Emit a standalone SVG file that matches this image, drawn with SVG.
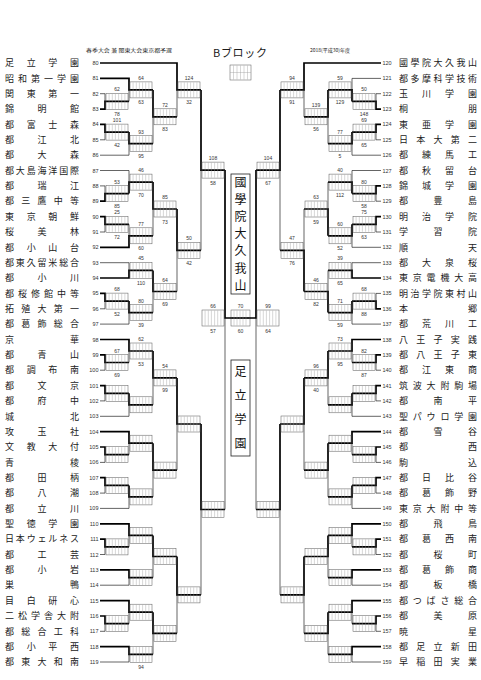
<svg xmlns="http://www.w3.org/2000/svg" width="481" height="680" viewBox="0 0 481 680">
<style>
.n{font-family:"Noto Sans CJK JP","Noto Sans CJK SC",sans-serif;font-size:9px;fill:#222}
.k{font-family:"Liberation Sans",sans-serif;font-size:5.5px;fill:#333}
.l{font-family:"Liberation Sans",sans-serif;font-size:5px;fill:#333;text-anchor:middle}
.h{font-family:"Noto Sans CJK JP","Noto Sans CJK SC",sans-serif;fill:#1a1a1a}
.t{stroke:#222;stroke-width:.7;fill:none}
.w{stroke:#000;stroke-width:1.7;fill:none}
.br{fill:none;stroke:#555;stroke-width:.5}
.bt{stroke:#999;stroke-width:.4}
.v{font-family:"Noto Sans CJK JP","Noto Sans CJK SC",sans-serif;font-size:12px;fill:#111;text-anchor:middle}
</style>
<defs>
<g id="bx"><rect class="br" x="1" y="-8" width="22" height="16"/><path class="bt" d="M4.1-7.5v15M7.3-7.5v15M10.4-7.5v15M13.6-7.5v15M16.7-7.5v15M19.9-7.5v15"/></g>
</defs>
<rect width="481" height="680" fill="#fff"/>
<g id="title">
<text class="h" x="86" y="52" font-size="5" textLength="86" lengthAdjust="spacingAndGlyphs">春季大会 兼 関東大会東京都予選</text>
<text class="h" x="213" y="57" font-size="11" textLength="54">Bブロック</text>
<text class="h" x="310" y="52" font-size="5" textLength="40" lengthAdjust="spacingAndGlyphs">2018(平成30)年度</text>
</g>
<g id="legend"><rect class="br" x="230" y="65" width="21" height="15"/><path class="bt" d="M233.5 65.5v14M237 65.5v14M240.5 65.5v14M244 65.5v14M247.5 65.5v14M230 72.5h21"/></g>
<g id="left-teams">
<g id="t80"><text class="n" x="5" y="66.2" textLength="74">足立学園</text><text class="k" x="98.5" y="65" text-anchor="end">80</text></g>
<g id="t81"><text class="n" x="5" y="81.6" textLength="74">昭和第一学園</text><text class="k" x="98.5" y="80.4" text-anchor="end">81</text></g>
<g id="t82"><text class="n" x="5" y="96.9" textLength="74">関東第一</text><text class="k" x="98.5" y="95.7" text-anchor="end">82</text></g>
<g id="t83"><text class="n" x="5" y="112.3" textLength="74">錦明館</text><text class="k" x="98.5" y="111.1" text-anchor="end">83</text></g>
<g id="t84"><text class="n" x="5" y="127.6" textLength="74">都富士森</text><text class="k" x="98.5" y="126.4" text-anchor="end">84</text></g>
<g id="t85"><text class="n" x="5" y="143" textLength="74">都江北</text><text class="k" x="98.5" y="141.8" text-anchor="end">85</text></g>
<g id="t86"><text class="n" x="5" y="158.4" textLength="74">都大森</text><text class="k" x="98.5" y="157.2" text-anchor="end">86</text></g>
<g id="t87"><text class="n" x="5" y="173.7" textLength="74">都大島海洋国際</text><text class="k" x="98.5" y="172.5" text-anchor="end">87</text></g>
<g id="t88"><text class="n" x="5" y="189.1" textLength="74">都瑞江</text><text class="k" x="98.5" y="187.9" text-anchor="end">88</text></g>
<g id="t89"><text class="n" x="5" y="204.4" textLength="74">都三鷹中等</text><text class="k" x="98.5" y="203.2" text-anchor="end">89</text></g>
<g id="t90"><text class="n" x="5" y="219.8" textLength="74">東京朝鮮</text><text class="k" x="98.5" y="218.6" text-anchor="end">90</text></g>
<g id="t91"><text class="n" x="5" y="235.2" textLength="74">桜美林</text><text class="k" x="98.5" y="234" text-anchor="end">91</text></g>
<g id="t92"><text class="n" x="5" y="250.5" textLength="74">都小山台</text><text class="k" x="98.5" y="249.3" text-anchor="end">92</text></g>
<g id="t93"><text class="n" x="5" y="265.9" textLength="74">都東久留米総合</text><text class="k" x="98.5" y="264.7" text-anchor="end">93</text></g>
<g id="t94"><text class="n" x="5" y="281.2" textLength="74">都小川</text><text class="k" x="98.5" y="280" text-anchor="end">94</text></g>
<g id="t95"><text class="n" x="5" y="296.6" textLength="74">都桜修館中等</text><text class="k" x="98.5" y="295.4" text-anchor="end">95</text></g>
<g id="t96"><text class="n" x="5" y="312" textLength="74">拓殖大第一</text><text class="k" x="98.5" y="310.8" text-anchor="end">96</text></g>
<g id="t97"><text class="n" x="5" y="327.3" textLength="74">都葛飾総合</text><text class="k" x="98.5" y="326.1" text-anchor="end">97</text></g>
<g id="t98"><text class="n" x="5" y="342.7" textLength="74">京華</text><text class="k" x="98.5" y="341.5" text-anchor="end">98</text></g>
<g id="t99"><text class="n" x="5" y="358" textLength="74">都青山</text><text class="k" x="98.5" y="356.8" text-anchor="end">99</text></g>
<g id="t100"><text class="n" x="5" y="373.4" textLength="74">都調布南</text><text class="k" x="98.5" y="372.2" text-anchor="end">100</text></g>
<g id="t101"><text class="n" x="5" y="388.8" textLength="74">都文京</text><text class="k" x="98.5" y="387.6" text-anchor="end">101</text></g>
<g id="t102"><text class="n" x="5" y="404.1" textLength="74">都府中</text><text class="k" x="98.5" y="402.9" text-anchor="end">102</text></g>
<g id="t103"><text class="n" x="5" y="419.5" textLength="74">城北</text><text class="k" x="98.5" y="418.3" text-anchor="end">103</text></g>
<g id="t104"><text class="n" x="5" y="434.8" textLength="74">攻玉社</text><text class="k" x="98.5" y="433.6" text-anchor="end">104</text></g>
<g id="t105"><text class="n" x="5" y="450.2" textLength="74">文教大付</text><text class="k" x="98.5" y="449" text-anchor="end">105</text></g>
<g id="t106"><text class="n" x="5" y="465.6" textLength="74">青稜</text><text class="k" x="98.5" y="464.4" text-anchor="end">106</text></g>
<g id="t107"><text class="n" x="5" y="480.9" textLength="74">都田柄</text><text class="k" x="98.5" y="479.7" text-anchor="end">107</text></g>
<g id="t108"><text class="n" x="5" y="496.3" textLength="74">都八潮</text><text class="k" x="98.5" y="495.1" text-anchor="end">108</text></g>
<g id="t109"><text class="n" x="5" y="511.6" textLength="74">都立川</text><text class="k" x="98.5" y="510.4" text-anchor="end">109</text></g>
<g id="t110"><text class="n" x="5" y="527" textLength="74">聖徳学園</text><text class="k" x="98.5" y="525.8" text-anchor="end">110</text></g>
<g id="t111"><text class="n" x="5" y="542.4" textLength="74">日本ウェルネス</text><text class="k" x="98.5" y="541.2" text-anchor="end">111</text></g>
<g id="t112"><text class="n" x="5" y="557.7" textLength="74">都工芸</text><text class="k" x="98.5" y="556.5" text-anchor="end">112</text></g>
<g id="t113"><text class="n" x="5" y="573.1" textLength="74">都小岩</text><text class="k" x="98.5" y="571.9" text-anchor="end">113</text></g>
<g id="t114"><text class="n" x="5" y="588.4" textLength="74">巣鴨</text><text class="k" x="98.5" y="587.2" text-anchor="end">114</text></g>
<g id="t115"><text class="n" x="5" y="603.8" textLength="74">目白研心</text><text class="k" x="98.5" y="602.6" text-anchor="end">115</text></g>
<g id="t116"><text class="n" x="5" y="619.2" textLength="74">二松学舎大附</text><text class="k" x="98.5" y="618" text-anchor="end">116</text></g>
<g id="t117"><text class="n" x="5" y="634.5" textLength="74">都総合工科</text><text class="k" x="98.5" y="633.3" text-anchor="end">117</text></g>
<g id="t118"><text class="n" x="5" y="649.9" textLength="74">都小平西</text><text class="k" x="98.5" y="648.7" text-anchor="end">118</text></g>
<g id="t119"><text class="n" x="5" y="665.2" textLength="74">都東大和南</text><text class="k" x="98.5" y="664" text-anchor="end">119</text></g>
</g>
<g id="right-teams">
<g id="t120"><text class="k" x="382.5" y="65">120</text><text class="n" x="399" y="66.2" textLength="78">國學院大久我山</text></g>
<g id="t121"><text class="k" x="382.5" y="80.4">121</text><text class="n" x="399" y="81.6" textLength="78">都多摩科学技術</text></g>
<g id="t122"><text class="k" x="382.5" y="95.7">122</text><text class="n" x="399" y="96.9" textLength="78">玉川学園</text></g>
<g id="t123"><text class="k" x="382.5" y="111.1">123</text><text class="n" x="399" y="112.3" textLength="78">桐朋</text></g>
<g id="t124"><text class="k" x="382.5" y="126.4">124</text><text class="n" x="399" y="127.6" textLength="78">東亜学園</text></g>
<g id="t125"><text class="k" x="382.5" y="141.8">125</text><text class="n" x="399" y="143" textLength="78">日本大第二</text></g>
<g id="t126"><text class="k" x="382.5" y="157.2">126</text><text class="n" x="399" y="158.4" textLength="78">都練馬工</text></g>
<g id="t127"><text class="k" x="382.5" y="172.5">127</text><text class="n" x="399" y="173.7" textLength="78">都秋留台</text></g>
<g id="t128"><text class="k" x="382.5" y="187.9">128</text><text class="n" x="399" y="189.1" textLength="78">錦城学園</text></g>
<g id="t129"><text class="k" x="382.5" y="203.2">129</text><text class="n" x="399" y="204.4" textLength="78">都豊島</text></g>
<g id="t130"><text class="k" x="382.5" y="218.6">130</text><text class="n" x="399" y="219.8" textLength="78">明治学院</text></g>
<g id="t131"><text class="k" x="382.5" y="234">131</text><text class="n" x="399" y="235.2" textLength="78">学習院</text></g>
<g id="t132"><text class="k" x="382.5" y="249.3">132</text><text class="n" x="399" y="250.5" textLength="78">順天</text></g>
<g id="t133"><text class="k" x="382.5" y="264.7">133</text><text class="n" x="399" y="265.9" textLength="78">都大泉桜</text></g>
<g id="t134"><text class="k" x="382.5" y="280">134</text><text class="n" x="399" y="281.2" textLength="78">東京電機大高</text></g>
<g id="t135"><text class="k" x="382.5" y="295.4">135</text><text class="n" x="399" y="296.6" textLength="78">明治学院東村山</text></g>
<g id="t136"><text class="k" x="382.5" y="310.8">136</text><text class="n" x="399" y="312" textLength="78">本郷</text></g>
<g id="t137"><text class="k" x="382.5" y="326.1">137</text><text class="n" x="399" y="327.3" textLength="78">都荒川工</text></g>
<g id="t138"><text class="k" x="382.5" y="341.5">138</text><text class="n" x="399" y="342.7" textLength="78">八王子実践</text></g>
<g id="t139"><text class="k" x="382.5" y="356.8">139</text><text class="n" x="399" y="358" textLength="78">都八王子東</text></g>
<g id="t140"><text class="k" x="382.5" y="372.2">140</text><text class="n" x="399" y="373.4" textLength="78">都江東商</text></g>
<g id="t141"><text class="k" x="382.5" y="387.6">141</text><text class="n" x="399" y="388.8" textLength="78">筑波大附駒場</text></g>
<g id="t142"><text class="k" x="382.5" y="402.9">142</text><text class="n" x="399" y="404.1" textLength="78">都南平</text></g>
<g id="t143"><text class="k" x="382.5" y="418.3">143</text><text class="n" x="399" y="419.5" textLength="78">聖パウロ学園</text></g>
<g id="t144"><text class="k" x="382.5" y="433.6">144</text><text class="n" x="399" y="434.8" textLength="78">都雪谷</text></g>
<g id="t145"><text class="k" x="382.5" y="449">145</text><text class="n" x="399" y="450.2" textLength="78">都西</text></g>
<g id="t146"><text class="k" x="382.5" y="464.4">146</text><text class="n" x="399" y="465.6" textLength="78">駒込</text></g>
<g id="t147"><text class="k" x="382.5" y="479.7">147</text><text class="n" x="399" y="480.9" textLength="78">都日比谷</text></g>
<g id="t148"><text class="k" x="382.5" y="495.1">148</text><text class="n" x="399" y="496.3" textLength="78">都葛飾野</text></g>
<g id="t149"><text class="k" x="382.5" y="510.4">149</text><text class="n" x="399" y="511.6" textLength="78">東京大附中等</text></g>
<g id="t150"><text class="k" x="382.5" y="525.8">150</text><text class="n" x="399" y="527" textLength="78">都飛鳥</text></g>
<g id="t151"><text class="k" x="382.5" y="541.2">151</text><text class="n" x="399" y="542.4" textLength="78">都葛西南</text></g>
<g id="t152"><text class="k" x="382.5" y="556.5">152</text><text class="n" x="399" y="557.7" textLength="78">都桜町</text></g>
<g id="t153"><text class="k" x="382.5" y="571.9">153</text><text class="n" x="399" y="573.1" textLength="78">都葛飾商</text></g>
<g id="t154"><text class="k" x="382.5" y="587.2">154</text><text class="n" x="399" y="588.4" textLength="78">都板橋</text></g>
<g id="t155"><text class="k" x="382.5" y="602.6">155</text><text class="n" x="399" y="603.8" textLength="78">都つばさ総合</text></g>
<g id="t156"><text class="k" x="382.5" y="618">156</text><text class="n" x="399" y="619.2" textLength="78">都美原</text></g>
<g id="t157"><text class="k" x="382.5" y="633.3">157</text><text class="n" x="399" y="634.5" textLength="78">暁星</text></g>
<g id="t158"><text class="k" x="382.5" y="648.7">158</text><text class="n" x="399" y="649.9" textLength="78">都足立新田</text></g>
<g id="t159"><text class="k" x="382.5" y="664">159</text><text class="n" x="399" y="665.2" textLength="78">早稲田実業</text></g>
</g>
<g id="connectors">
<path class="t" d="M100 93.7H105V101.4M129 101.4V89.9M100 139.8H105V132.1M100 155.2H129V143.7M153 143.7V116.8M177 116.8V89.9M100 185.9H105V193.6M100 170.5H129V182.1M100 232H105V224.3M129 224.3V235.8M153 235.8V209M100 262.7H129V270.4M100 308.8H105V301.1M100 324.1H129V312.6M153 312.6V291.5M177 291.5V250.3M201 250.3V170.1"/>
<path class="w" d="M100 109.1H105V101.4H129M100 78.4H129V89.9H153M100 124.4H105V132.1H129M129 132.1V143.7H153M153 89.9V116.8H177M100 63H177V89.9H201M100 201.2H105V193.6H129M129 193.6V182.1H153M100 216.6H105V224.3H129M100 247.3H129V235.8H153M153 182.1V209H177M100 278H129V270.4H153M100 293.4H105V301.1H129M129 301.1V312.6H153M153 270.4V291.5H177M177 209V250.3H201M201 89.9V170.1H225"/>
<path class="t" d="M100 370.2H105V362.5M129 362.5V351M100 400.9H105V393.3M100 416.3H129V404.8M153 404.8V377.9M100 462.4H105V454.7M129 454.7V443.2M100 493.1H105V485.4M100 508.4H129V496.9M153 496.9V470.1M177 470.1V424M100 554.5H105V546.9M129 546.9V535.4M100 585.2H129V577.6M153 577.6V556.5M100 631.3H105V623.7M129 623.7V612.2M100 662H129V654.4M153 654.4V633.3M177 633.3V594.9M201 594.9V509.5M225 509.5V318"/>
<path class="w" d="M100 354.8H105V362.5H129M100 339.5H129V351H153M100 385.6H105V393.3H129M129 393.3V404.8H153M153 351V377.9H177M100 447H105V454.7H129M100 431.6H129V443.2H153M100 477.7H105V485.4H129M129 485.4V496.9H153M153 443.2V470.1H177M177 377.9V424H201M100 539.2H105V546.9H129M100 523.8H129V535.4H153M100 569.9H129V577.6H153M153 535.4V556.5H177M100 616H105V623.7H129M100 600.6H129V612.2H153M100 646.7H129V654.4H153M153 612.2V633.3H177M177 556.5V594.9H201M201 424V509.5H225M225 170.1V318H230"/>
<path class="t" d="M381 93.7H376V101.4M381 78.4H352V89.9M381 139.8H376V132.1M381 155.2H352V143.7M328 143.7V116.8M304 116.8V89.9M381 201.2H376V193.6M381 170.5H352V182.1M381 232H376V224.3M381 247.3H352V235.8M328 182.1V209M381 262.7H352V270.4M381 293.4H376V301.1M381 324.1H352V312.6M328 270.4V291.5M304 209V250.3M280 250.3V170.1"/>
<path class="w" d="M381 109.1H376V101.4H352M352 101.4V89.9H328M381 124.4H376V132.1H352M352 132.1V143.7H328M328 89.9V116.8H304M381 63H304V89.9H280M381 185.9H376V193.6H352M352 193.6V182.1H328M381 216.6H376V224.3H352M352 224.3V235.8H328M328 235.8V209H304M381 278H352V270.4H328M381 308.8H376V301.1H352M352 301.1V312.6H328M328 312.6V291.5H304M304 291.5V250.3H280M280 89.9V170.1H256"/>
<path class="t" d="M381 370.2H376V362.5M352 362.5V351M381 400.9H376V393.3M381 416.3H352V404.8M328 404.8V377.9M381 462.4H376V454.7M352 454.7V443.2M381 493.1H376V485.4M381 508.4H352V496.9M328 496.9V470.1M304 470.1V424M381 554.5H376V546.9M352 546.9V535.4M381 585.2H352V577.6M328 577.6V556.5M381 631.3H376V623.7M352 623.7V612.2M381 662H352V654.4M328 654.4V633.3M304 633.3V594.9M280 594.9V509.5M256 509.5V318"/>
<path class="w" d="M381 354.8H376V362.5H352M381 339.5H352V351H328M381 385.6H376V393.3H352M352 393.3V404.8H328M328 351V377.9H304M381 447H376V454.7H352M381 431.6H352V443.2H328M381 477.7H376V485.4H352M352 485.4V496.9H328M328 443.2V470.1H304M304 377.9V424H280M381 539.2H376V546.9H352M381 523.8H352V535.4H328M381 569.9H352V577.6H328M328 535.4V556.5H304M381 616H376V623.7H352M381 600.6H352V612.2H328M381 646.7H352V654.4H328M328 612.2V633.3H304M304 556.5V594.9H280M280 424V509.5H256M256 170.1V318H251"/>
</g>
<g id="boxes">
<use href="#bx" x="105" y="101.4"/><use href="#bx" x="129" y="89.9"/><use href="#bx" x="105" y="132.1"/><use href="#bx" x="129" y="143.7"/><use href="#bx" x="153" y="116.8"/><use href="#bx" x="177" y="89.9"/><use href="#bx" x="105" y="193.6"/><use href="#bx" x="129" y="182.1"/><use href="#bx" x="105" y="224.3"/><use href="#bx" x="129" y="235.8"/><use href="#bx" x="153" y="209"/><use href="#bx" x="129" y="270.4"/><use href="#bx" x="105" y="301.1"/><use href="#bx" x="129" y="312.6"/><use href="#bx" x="153" y="291.5"/><use href="#bx" x="177" y="250.3"/><use href="#bx" x="201" y="170.1"/>
<use href="#bx" x="105" y="362.5"/><use href="#bx" x="129" y="351"/><use href="#bx" x="105" y="393.3"/><use href="#bx" x="129" y="404.8"/><use href="#bx" x="153" y="377.9"/><use href="#bx" x="105" y="454.7"/><use href="#bx" x="129" y="443.2"/><use href="#bx" x="105" y="485.4"/><use href="#bx" x="129" y="496.9"/><use href="#bx" x="153" y="470.1"/><use href="#bx" x="177" y="424"/><use href="#bx" x="105" y="546.9"/><use href="#bx" x="129" y="535.4"/><use href="#bx" x="129" y="577.6"/><use href="#bx" x="153" y="556.5"/><use href="#bx" x="105" y="623.7"/><use href="#bx" x="129" y="612.2"/><use href="#bx" x="129" y="654.4"/><use href="#bx" x="153" y="633.3"/><use href="#bx" x="177" y="594.9"/><use href="#bx" x="201" y="509.5"/><use href="#bx" x="201" y="318"/>
<use href="#bx" x="352" y="101.4"/><use href="#bx" x="328" y="89.9"/><use href="#bx" x="352" y="132.1"/><use href="#bx" x="328" y="143.7"/><use href="#bx" x="304" y="116.8"/><use href="#bx" x="280" y="89.9"/><use href="#bx" x="352" y="193.6"/><use href="#bx" x="328" y="182.1"/><use href="#bx" x="352" y="224.3"/><use href="#bx" x="328" y="235.8"/><use href="#bx" x="304" y="209"/><use href="#bx" x="328" y="270.4"/><use href="#bx" x="352" y="301.1"/><use href="#bx" x="328" y="312.6"/><use href="#bx" x="304" y="291.5"/><use href="#bx" x="280" y="250.3"/><use href="#bx" x="256" y="170.1"/>
<use href="#bx" x="352" y="362.5"/><use href="#bx" x="328" y="351"/><use href="#bx" x="352" y="393.3"/><use href="#bx" x="328" y="404.8"/><use href="#bx" x="304" y="377.9"/><use href="#bx" x="352" y="454.7"/><use href="#bx" x="328" y="443.2"/><use href="#bx" x="352" y="485.4"/><use href="#bx" x="328" y="496.9"/><use href="#bx" x="304" y="470.1"/><use href="#bx" x="280" y="424"/><use href="#bx" x="352" y="546.9"/><use href="#bx" x="328" y="535.4"/><use href="#bx" x="328" y="577.6"/><use href="#bx" x="304" y="556.5"/><use href="#bx" x="352" y="623.7"/><use href="#bx" x="328" y="612.2"/><use href="#bx" x="328" y="654.4"/><use href="#bx" x="304" y="633.3"/><use href="#bx" x="280" y="594.9"/><use href="#bx" x="256" y="509.5"/><use href="#bx" x="256" y="318"/>
</g>
<g id="final"><path class="w" d="M230 318H251"/><rect class="br" x="231" y="310" width="19" height="16"/><path class="bt" d="M234 310.5v15M237 310.5v15M240 310.5v15M243 310.5v15M246 310.5v15"/></g>
<g id="labels">
<text class="l" x="117" y="91.4">62</text><text class="l" x="117" y="115.9">78</text>
<text class="l" x="141" y="79.9">64</text><text class="l" x="141" y="104.4">63</text>
<text class="l" x="117" y="122.1">101</text><text class="l" x="117" y="146.6">42</text>
<text class="l" x="141" y="133.7">93</text><text class="l" x="141" y="158.2">95</text>
<text class="l" x="165" y="106.8">72</text><text class="l" x="165" y="131.3">83</text>
<text class="l" x="189" y="79.9">124</text><text class="l" x="189" y="104.4">32</text>
<text class="l" x="117" y="183.6">53</text><text class="l" x="117" y="208.1">85</text>
<text class="l" x="141" y="172.1">46</text><text class="l" x="141" y="196.6">70</text>
<text class="l" x="117" y="214.3">25</text><text class="l" x="117" y="238.8">72</text>
<text class="l" x="141" y="225.8">77</text><text class="l" x="141" y="250.3">60</text>
<text class="l" x="165" y="199">85</text><text class="l" x="165" y="223.5">73</text>
<text class="l" x="141" y="260.4">45</text><text class="l" x="141" y="284.9">110</text>
<text class="l" x="117" y="291.1">68</text><text class="l" x="117" y="315.6">52</text>
<text class="l" x="141" y="302.6">80</text><text class="l" x="141" y="327.1">39</text>
<text class="l" x="165" y="281.5">64</text><text class="l" x="165" y="306">69</text>
<text class="l" x="189" y="240.3">50</text><text class="l" x="189" y="264.8">42</text>
<text class="l" x="213" y="160.1">108</text><text class="l" x="213" y="184.6">58</text>
<text class="l" x="117" y="352.5">67</text><text class="l" x="117" y="377">69</text>
<text class="l" x="141" y="341">62</text><text class="l" x="141" y="365.5">53</text>
<text class="l" x="165" y="367.9">54</text><text class="l" x="165" y="392.4">99</text>
<text class="l" x="141" y="669">94</text>
<text class="l" x="213" y="308">66</text><text class="l" x="213" y="332.5">57</text>
<text class="l" x="240.5" y="308">70</text><text class="l" x="240.5" y="332.5">60</text>
<text class="l" x="268" y="308">99</text><text class="l" x="268" y="332.5">64</text>
<text class="l" x="364" y="91.4">50</text><text class="l" x="364" y="115.9">148</text>
<text class="l" x="340" y="79.9">59</text><text class="l" x="340" y="104.4">129</text>
<text class="l" x="364" y="122.1">69</text><text class="l" x="364" y="146.6">65</text>
<text class="l" x="340" y="133.7">77</text><text class="l" x="340" y="158.2">5</text>
<text class="l" x="316" y="106.8">139</text><text class="l" x="316" y="131.3">56</text>
<text class="l" x="292" y="79.9">94</text><text class="l" x="292" y="104.4">91</text>
<text class="l" x="364" y="183.6">80</text><text class="l" x="364" y="208.1">58</text>
<text class="l" x="340" y="172.1">40</text><text class="l" x="340" y="196.6">112</text>
<text class="l" x="364" y="214.3">75</text><text class="l" x="364" y="238.8">63</text>
<text class="l" x="340" y="225.8">60</text><text class="l" x="340" y="250.3">52</text>
<text class="l" x="316" y="199">63</text><text class="l" x="316" y="223.5">59</text>
<text class="l" x="340" y="260.4">39</text><text class="l" x="340" y="284.9">65</text>
<text class="l" x="364" y="291.1">68</text><text class="l" x="364" y="315.6">88</text>
<text class="l" x="340" y="302.6">71</text><text class="l" x="340" y="327.1">59</text>
<text class="l" x="316" y="281.5">46</text><text class="l" x="316" y="306">82</text>
<text class="l" x="292" y="240.3">47</text><text class="l" x="292" y="264.8">76</text>
<text class="l" x="268" y="160.1">104</text><text class="l" x="268" y="184.6">67</text>
<text class="l" x="364" y="352.5">82</text><text class="l" x="364" y="377">87</text>
<text class="l" x="340" y="341">73</text><text class="l" x="340" y="365.5">95</text>
<text class="l" x="316" y="367.9">96</text><text class="l" x="316" y="392.4">40</text>
</g>
<g id="champ-top"><rect x="231" y="174" width="19" height="120" fill="none" stroke="#222" stroke-width=".8"/>
<text class="v" x="240.5" y="186.9">國</text><text class="v" x="240.5" y="204">學</text><text class="v" x="240.5" y="221.2">院</text><text class="v" x="240.5" y="238.3">大</text><text class="v" x="240.5" y="255.4">久</text><text class="v" x="240.5" y="272.6">我</text><text class="v" x="240.5" y="289.7">山</text></g>
<g id="champ-bottom"><rect x="231" y="360" width="19" height="96" fill="none" stroke="#222" stroke-width=".8"/>
<text class="v" x="240.5" y="376.3">足</text><text class="v" x="240.5" y="400.3">立</text><text class="v" x="240.5" y="424.3">学</text><text class="v" x="240.5" y="448.3">園</text></g>
</svg>
